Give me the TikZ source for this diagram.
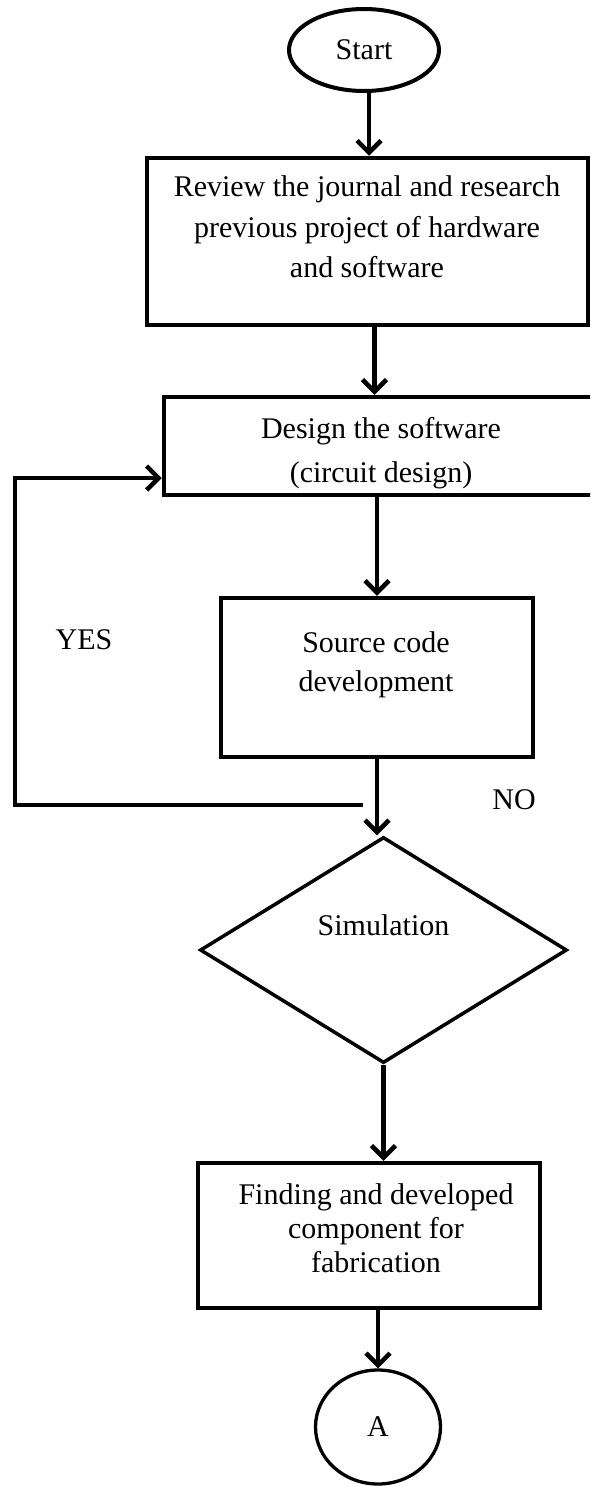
\documentclass[tikz,border=0pt]{standalone}
\usepackage{fontspec}
\setmainfont{Liberation Serif}
\usetikzlibrary{shapes.geometric,arrows.meta}
\begin{document}
\begin{tikzpicture}[x=1pt,y=-1pt,
  every node/.style={font=\fontsize{30}{40}\selectfont},
  block/.style={draw, rectangle, line width=4.5pt, inner sep=0pt},
  txt/.style={align=center, inner sep=0pt},
  conn/.style={line width=4.5pt},
  flow/.style={conn, -{Straight Barb[length=12pt,width=24pt,line width=4.5pt]}}
]
\useasboundingbox (0,0) rectangle (590,1486);
\clip (0,0) rectangle (590,1486);
\fill[white] (0,0) rectangle (590,1486);

% terminator
\node[ellipse, draw, line width=4pt, minimum width=150pt, minimum height=82pt, inner sep=0pt] (start) at (364,50) {Start};

% literature review
\node[block, minimum width=441pt, minimum height=167pt] (review) at (367.5,241.5) {};
\node[txt, font=\fontsize{30}{40.5}\selectfont] (reviewtxt) at (367,227) {Review the journal and research\\previous project of hardware\\and software};

% software design
\node[block, minimum width=432pt, minimum height=98pt] (design) at (380,446) {};
\node[txt, font=\fontsize{30}{44}\selectfont] (designtxt) at (381,453) {Design the software\\(circuit design)};

% source code
\node[block, minimum width=312pt, minimum height=159pt] (source) at (377,677.5) {};
\node[txt, font=\fontsize{30}{39}\selectfont] (sourcetxt) at (376,665) {Source code\\development};

% decision
\node[diamond, draw, line width=3.5pt, aspect=1.62, minimum width=367pt, minimum height=226pt, inner sep=0pt] (sim) at (383.5,950) {};
\node[txt] (simtxt) at (383.5,925) {Simulation};

% fabrication
\node[block, minimum width=342pt, minimum height=145pt] (finding) at (369,1235.5) {};
\node[txt, font=\fontsize{30}{34}\selectfont] (findingtxt) at (376,1228.5) {Finding and developed\\component for\\fabrication};

% off-page connector
\node[ellipse, draw, line width=3.3pt, minimum width=125pt, minimum height=114pt, inner sep=0pt] (a) at (378,1427) {A};

% branch labels
\node[txt] (yes) at (84,640) {YES};
\node[txt] (no) at (514,800) {NO};

% main flow
\draw[flow] ([xshift=5pt]start.south) -- ([xshift=5pt]start.south |- review.north);
\draw[flow] ([xshift=7pt]review.south) -- ([xshift=7pt]review.south |- design.north);
\draw[flow] (design.south -| source.north) -- (source.north);
\draw[flow] (source.south) -- (source.south |- sim.north);
\draw[flow] (sim.south) -- (sim.south |- finding.north);
\draw[flow] (finding.south -| a.north) -- (a.north);

% feedback loop back to the design step
\coordinate (yesend) at (363,805);
\coordinate (yescorner) at (15,478);
\draw[flow] (yesend) -| (yescorner) -- (yescorner -| design.west);
\end{tikzpicture}
\end{document}
